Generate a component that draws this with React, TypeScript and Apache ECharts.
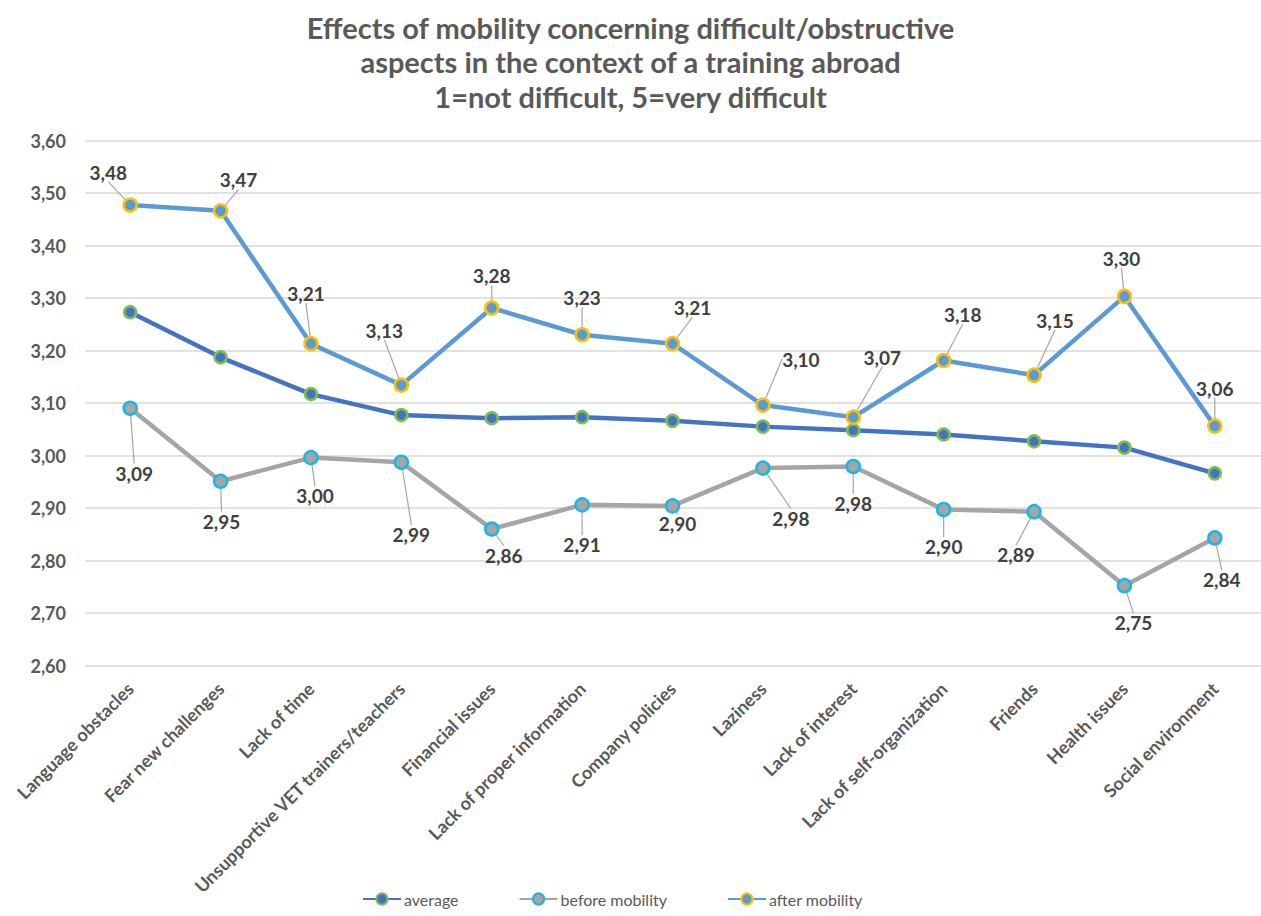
import React, { useEffect, useRef } from "react";
import * as echarts from "echarts";

const categories = [
  "Language obstacles",
  "Fear new challenges",
  "Lack of time",
  "Unsupportive VET trainers/teachers",
  "Financial issues",
  "Lack of proper information",
  "Company policies",
  "Laziness",
  "Lack of interest",
  "Lack of self-organization",
  "Friends",
  "Health issues",
  "Social environment",
];

const averageValues = [3.273, 3.187, 3.117, 3.077, 3.071, 3.073, 3.066, 3.055, 3.048, 3.04, 3.027, 3.015, 2.966];
const beforeValues = [3.09, 2.951, 2.996, 2.987, 2.86, 2.906, 2.904, 2.976, 2.979, 2.897, 2.893, 2.752, 2.843];
const afterValues = [3.477, 3.466, 3.213, 3.134, 3.281, 3.23, 3.213, 3.096, 3.073, 3.181, 3.153, 3.303, 3.056];

const yTicks = { min: 2.6, max: 3.6, step: 0.1 };

// Callout offsets (px from the marker centre) for the value labels
const afterLabelShift = [
  [-22, -33], [18, -31], [-5, -50], [-17, -55], [0, -32], [0, -37], [20, -36],
  [38, -46], [29, -60], [19, -46], [21, -55], [-3, -38], [0, -38],
];
const beforeLabelShift = [
  [4, 65], [1, 40], [4, 38], [10, 72], [12, 26], [0, 40], [5, 18],
  [28, 50], [0, 37], [0, 37], [-18, 43], [9, 37], [7, 42],
];

const FONT = "Lato, 'Open Sans', sans-serif";
const fmt = (v: number) => v.toFixed(2).replace(".", ",");

export default function App() {
  const ref = useRef<HTMLDivElement>(null);

  useEffect(() => {
    if (!ref.current) return;
    const chart = echarts.init(ref.current, undefined, { renderer: "svg" });

    const valueLabel = {
      show: true,
      position: "inside",
      formatter: (p: any) => fmt(p.value),
      fontFamily: FONT,
      fontWeight: "bold",
      fontSize: 19,
      color: "#404040",
    };
    const guide = {
      show: true,
      lineStyle: { color: "#a6a6a6", width: 1.2 },
    };

    chart.setOption({
      animation: false,
      backgroundColor: "#ffffff",
      title: {
        text: "Effects of mobility concerning difficult/obstructive\naspects in the context of a training abroad\n1=not difficult, 5=very difficult",
        left: "center",
        top: 5,
        textStyle: {
          fontFamily: FONT,
          fontWeight: "bold",
          fontSize: 29,
          lineHeight: 34.5,
          color: "#595959",
        },
      },
      legend: {
        bottom: 4,
        left: 357,
        itemGap: 60,
        itemWidth: 38,
        itemHeight: 14,
        textStyle: { fontFamily: FONT, fontSize: 16, color: "#595959", padding: [0, 0, 0, -2] },
        data: ["average", "before mobility", "after mobility"],
      },
      grid: { left: 85, right: 1, top: 140.5, bottom: 250.5, containLabel: false },
      xAxis: {
        type: "category",
        data: categories,
        boundaryGap: true,
        axisLine: { show: false },
        axisTick: { show: false },
        axisLabel: {
          interval: 0,
          rotate: 45,
          margin: 20,
          fontFamily: FONT,
          fontWeight: "bold",
          fontSize: 18,
          color: "#595959",
        },
      },
      yAxis: {
        type: "value",
        min: yTicks.min,
        max: yTicks.max,
        interval: yTicks.step,
        axisLine: { show: false },
        axisTick: { show: false },
        splitLine: { lineStyle: { color: "#d9d9d9", width: 1.5 } },
        axisLabel: {
          margin: 19,
          formatter: (v: number) => fmt(v),
          fontFamily: FONT,
          fontWeight: "bold",
          fontSize: 18,
          color: "#595959",
        },
      },
      series: [
        {
          name: "average",
          type: "line",
          data: averageValues,
          symbol: "circle",
          symbolSize: 12,
          lineStyle: { color: "#4472c4", width: 4.5 },
          itemStyle: { color: "#4472c4", borderColor: "#7cc04b", borderWidth: 2.5 },
          z: 2,
        },
        {
          name: "before mobility",
          type: "line",
          data: beforeValues,
          symbol: "circle",
          symbolSize: 13,
          lineStyle: { color: "#a5a5a5", width: 4.5 },
          itemStyle: { color: "#a5a5a5", borderColor: "#1cb5ea", borderWidth: 2.5 },
          label: valueLabel,
          labelLine: guide,
          labelLayout: (p: any) => ({
            dx: beforeLabelShift[p.dataIndex][0],
            dy: beforeLabelShift[p.dataIndex][1],
          }),
          z: 3,
        },
        {
          name: "after mobility",
          type: "line",
          data: afterValues,
          symbol: "circle",
          symbolSize: 13,
          lineStyle: { color: "#5b9bd5", width: 4.5 },
          itemStyle: { color: "#5b9bd5", borderColor: "#ffc000", borderWidth: 2.5 },
          label: valueLabel,
          labelLine: guide,
          labelLayout: (p: any) => ({
            dx: afterLabelShift[p.dataIndex][0],
            dy: afterLabelShift[p.dataIndex][1],
          }),
          z: 4,
        },
      ],
    });

    return () => chart.dispose();
  }, []);

  return (
    <div
      ref={ref}
      style={{ position: "absolute", left: 0, top: 0, width: 1261, height: 916 }}
    />
  );
}
